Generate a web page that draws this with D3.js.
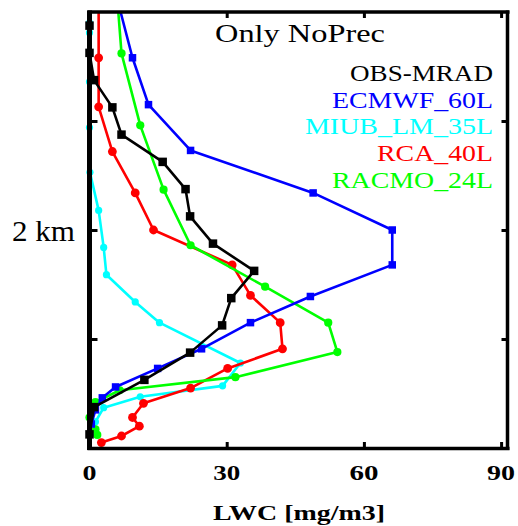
<!DOCTYPE html>
<html><head><meta charset="utf-8">
<script src="https://cdn.jsdelivr.net/npm/d3@7"></script>
<style>body{margin:0;background:#fff}svg{display:block}</style>
</head><body>
<script>
// ---- data (LWC in mg/m3, height in km) ----
const obsHeights = [3.875,3.625,3.375,3.125,2.875,2.625,2.375,2.125,1.875,1.625,1.375,1.125,0.875,0.625,0.375,0.125];
const obsLWC     = [0,0,1,5,7,16,21,22,27,36,31,29,22,12,1,0];

const ecmwfHeights = [4.0,3.58,3.15,2.73,2.34,2.0,1.68,1.39,1.15,0.91,0.73,0.56,0.46,0.35,0.22];
const ecmwfLWC     = [6.8,9.4,12.9,22.1,48.9,66.2,66.2,48.3,35.2,24.5,14.9,5.7,2.8,1.3,0.4];

const miubHeights = [3.9,3.81,3.36,2.94,2.53,2.18,1.84,1.59,1.34,1.15,0.78,0.57,0.47,0.37,0.24,0.14];
const miubLWC     = [0,0,0,0,0.1,2.0,3.1,3.7,10.0,15.3,33.0,29.1,11.1,3.1,1.3,1.1];

const rcaHeights = [4.0,3.58,3.13,2.72,2.34,2.0,1.68,1.40,1.15,0.91,0.73,0.55,0.41,0.28,0.20,0.11,0.05];
const rcaLWC     = [2.0,2.0,2.0,5.0,10.0,14.0,31.2,35.2,41.7,42.2,30.2,22.1,11.8,9.4,10.9,7.0,2.6];

const racmoHeights = [4.0,3.62,2.96,2.37,1.86,1.48,1.15,0.88,0.65,0.53,0.42,0.28,0.17,0.12];
const racmoLWC     = [6.3,7.0,11.1,16.2,22.1,38.4,52.2,54.2,31.9,6.6,1.3,0,1.3,1.7];

const seriesNames  = ["OBS-MRAD","ECMWF_60L","MIUB_LM_35L","RCA_40L","RACMO_24L"];
const seriesColors = ["#000000","#0000ff","#00ffff","#ff0000","#00ff00"];
const xTicks = [0,30,60,90];
const yTicks = [1,2,3];
const yTickLabels = {2:"2 km"};
const titleText = "Only NoPrec";
const xLabelText = "LWC [mg/m3]";

const W = 518, H = 526;
const L = 89.5, T = 12, R = 507.5, B = 448;
const FONT = '"Liberation Serif"';

const svg = d3.select("body").append("svg").attr("width", W).attr("height", H);
const x = d3.scaleLinear().domain([0, 91.4]).range([L, R]);
const y = d3.scaleLinear().domain([0, 4]).range([B, T]);

// series: draw order cyan, red, green, blue, black
const series = [
  {name: seriesNames[2], color: seriesColors[2], h: miubHeights, v: miubLWC, shape: "circle", size: 3.6},
  {name: seriesNames[3], color: seriesColors[3], h: rcaHeights, v: rcaLWC, shape: "circle", size: 4.4},
  {name: seriesNames[4], color: seriesColors[4], h: racmoHeights, v: racmoLWC, shape: "circle", size: 4.1},
  {name: seriesNames[1], color: seriesColors[1], h: ecmwfHeights, v: ecmwfLWC, shape: "square", size: 7.5},
  {name: seriesNames[0], color: seriesColors[0], h: obsHeights, v: obsLWC, shape: "square", size: 8.5},
];

const line = d3.line().x(d => x(d[0])).y(d => y(d[1]));
series.forEach(s => {
  const pts = s.v.map((v, i) => [v, s.h[i]]);
  const g = svg.append("g");
  g.append("path").datum(pts).attr("d", line)
    .attr("fill", "none").attr("stroke", s.color).attr("stroke-width", 2.6)
    .attr("stroke-linejoin", "round");
  const mk = pts.filter(p => p[1] < 3.95);
  if (s.shape === "square") {
    g.selectAll("rect").data(mk).join("rect")
      .attr("x", d => x(d[0]) - s.size/2).attr("y", d => y(d[1]) - s.size/2)
      .attr("width", s.size).attr("height", s.size).attr("fill", s.color);
  } else {
    g.selectAll("circle").data(mk).join("circle")
      .attr("cx", d => x(d[0])).attr("cy", d => y(d[1])).attr("r", s.size)
      .attr("fill", s.color);
  }
});

// axes (ticks inward)
const tl = 6;
svg.append("g").attr("transform", `translate(0,${B})`)
  .call(d3.axisBottom(x).tickValues(xTicks).tickSize(-tl).tickFormat(""))
  .call(g => { g.select(".domain").remove(); g.selectAll("line").attr("stroke-width", 3); });
svg.append("g").attr("transform", `translate(0,${T})`)
  .call(d3.axisTop(x).tickValues(xTicks).tickSize(-tl).tickFormat(""))
  .call(g => { g.select(".domain").remove(); g.selectAll("line").attr("stroke-width", 3); });
svg.append("g").attr("transform", `translate(${L},0)`)
  .call(d3.axisLeft(y).tickValues(yTicks).tickSize(-(tl+2)).tickFormat(""))
  .call(g => { g.select(".domain").remove(); g.selectAll("line").attr("stroke-width", 3); });
svg.append("g").attr("transform", `translate(${R},0)`)
  .call(d3.axisRight(y).tickValues(yTicks).tickSize(-tl).tickFormat(""))
  .call(g => { g.select(".domain").remove(); g.selectAll("line").attr("stroke-width", 3); });

// frame
svg.append("line").attr("x1", L-2).attr("x2", R+2).attr("y1", T).attr("y2", T).attr("stroke", "#000").attr("stroke-width", 3.5);
svg.append("line").attr("x1", L-2).attr("x2", R+2).attr("y1", B+0.5).attr("y2", B+0.5).attr("stroke", "#000").attr("stroke-width", 3.5);
svg.append("line").attr("x1", L).attr("x2", L).attr("y1", T-1.5).attr("y2", B+2).attr("stroke", "#000").attr("stroke-width", 5);
svg.append("line").attr("x1", R).attr("x2", R).attr("y1", T-1.5).attr("y2", B+2).attr("stroke", "#000").attr("stroke-width", 3.5);

function txt(xp, yp, s, size, w, opts = {}) {
  const t = svg.append("text").attr("x", xp).attr("y", yp)
    .style("font-family", FONT).style("font-size", size + "px")
    .style("font-weight", opts.bold ? "bold" : "normal")
    .attr("fill", opts.color || "#000")
    .attr("textLength", w).attr("lengthAdjust", "spacingAndGlyphs")
    .text(s);
  if (opts.anchor) t.attr("text-anchor", opts.anchor);
  return t;
}

// x tick labels
const xLabW = {0: 14, 30: 27, 60: 29, 90: 28};
xTicks.forEach(t => txt(x(t), 480, String(t), 22, xLabW[t], {bold: true, anchor: "middle"}));

// y tick label
yTicks.filter(t => yTickLabels[t]).forEach(t => txt(12, y(t) + 11, yTickLabels[t], 29, 63));

// x axis label
txt(213, 520, xLabelText, 22, 172, {bold: true});

// title
txt(215, 42, titleText, 26, 170);

// legend (right-aligned text)
const legW = [143, 161, 188, 116, 161];
seriesNames.forEach((n, i) => txt(493 - legW[i], 81 + i * 26.7, n, 23.5, legW[i], {color: seriesColors[i]}));
</script>
</body></html>
